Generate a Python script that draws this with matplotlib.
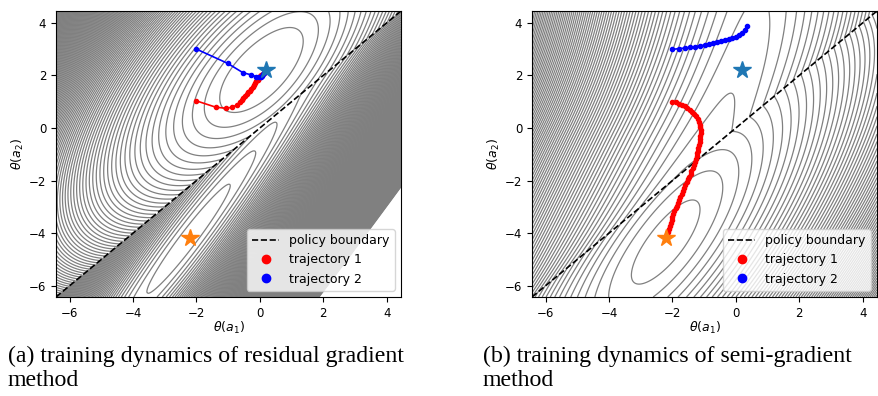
import numpy as np
import matplotlib.pyplot as plt
from matplotlib.lines import Line2D

# parameter plane shown in both panels
lim_lo, lim_hi = -6.43, 4.45

# fixed points of the two greedy policies
star_a2 = (0.2, 2.2)     # greedy action a2 (above the boundary)
star_a1 = (-2.2, -4.2)   # greedy action a1 (below the boundary)

# residual gradient runs
rg_traj1_x = [-2.0, -1.39, -1.06, -0.87, -0.72, -0.64, -0.58, -0.52, -0.47, -0.42, -0.37, -0.32,
              -0.27, -0.23, -0.19, -0.15, -0.11, -0.07, -0.03, 0.01, 0.05, 0.09, 0.13, 0.17, 0.2]
rg_traj1_y = [1.03, 0.79, 0.75, 0.79, 0.88, 1.00, 1.07, 1.14, 1.21, 1.28, 1.35, 1.42,
              1.49, 1.56, 1.63, 1.70, 1.77, 1.84, 1.90, 1.96, 2.01, 2.06, 2.11, 2.16, 2.2]
rg_traj2_x = [-2.0, -1.02, -0.53, -0.27, -0.11, -0.03, 0.02, 0.06, 0.10, 0.13, 0.16, 0.18, 0.2]
rg_traj2_y = [3.0, 2.46, 2.10, 2.02, 1.95, 1.93, 1.95, 1.99, 2.04, 2.09, 2.13, 2.17, 2.2]

# semi-gradient runs
sg_traj1_x = [-2.00, -1.90, -1.80, -1.70, -1.62, -1.54, -1.46, -1.39, -1.32, -1.26, -1.21, -1.17,
              -1.14, -1.12, -1.11, -1.11, -1.12, -1.13, -1.14, -1.16, -1.18, -1.20, -1.22, -1.24,
              -1.27, -1.30, -1.33, -1.36, -1.40, -1.43, -1.47, -1.51, -1.55, -1.59, -1.63, -1.67,
              -1.71, -1.75, -1.79, -1.83, -1.87, -1.90, -1.94, -1.97, -2.00, -2.03, -2.06, -2.09,
              -2.12, -2.14, -2.17, -2.19]
sg_traj1_y = [1.00, 0.97, 0.93, 0.88, 0.83, 0.77, 0.70, 0.62, 0.53, 0.44, 0.34, 0.24,
              0.13, 0.02, -0.09, -0.20, -0.31, -0.42, -0.53, -0.64, -0.75, -0.86, -0.97, -1.08,
              -1.19, -1.30, -1.41, -1.52, -1.63, -1.74, -1.85, -1.96, -2.07, -2.18, -2.29, -2.40,
              -2.51, -2.62, -2.73, -2.84, -2.95, -3.06, -3.17, -3.28, -3.39, -3.50, -3.61, -3.72,
              -3.83, -3.94, -4.05, -4.15]
sg_traj2_x = [-2.0, -1.79, -1.61, -1.46, -1.30, -1.14, -0.98, -0.85, -0.72, -0.59, -0.48, -0.35,
              -0.23, -0.11, -0.01, 0.10, 0.19, 0.28, 0.36]
sg_traj2_y = [2.99, 3.02, 3.04, 3.07, 3.09, 3.12, 3.16, 3.18, 3.22, 3.26, 3.30, 3.34,
              3.37, 3.42, 3.47, 3.54, 3.62, 3.73, 3.88]

captions = ["(a) training dynamics of residual gradient", "(b) training dynamics of semi-gradient"]


def bowl(center, slope, k_perp, k_along, offset=0.0, stiff=0.0, bend=0.0):
    # tilted bowl (long axis with the given slope); `stiff` adds a quartic wall,
    # `bend` curves the axis towards vertical for y > 0
    t = np.array([1.0, slope]) / np.hypot(1.0, slope)
    n = np.array([t[1], -t[0]])

    def f(X, Y):
        Xw = X + bend * np.clip(Y, 0, None) ** 2
        dx, dy = Xw - center[0], Y - center[1]
        q = k_perp * (n[0] * dx + n[1] * dy) ** 2 + k_along * (t[0] * dx + t[1] * dy) ** 2
        return q + stiff * q ** 2 + offset
    return f


def glued(X, Y, upper, lower, ell=1.0):
    # one bowl above theta(a1) = theta(a2), one below; the gap on the boundary is
    # split between the two and fades out away from it
    Qu, Qd = upper(X, Y), lower(X, Y)
    T = 0.5 * (X + Y)
    gap = upper(T, T) - lower(T, T)
    w = np.exp(-np.abs(X - Y) / np.sqrt(2) / ell)
    return np.where(Y > X, Qu - 0.5 * gap * w, Qd + 0.5 * gap * w)


g = np.linspace(lim_lo, lim_hi, 400)
X, Y = np.meshgrid(g, g)

Z_rg = glued(X, Y,
             bowl(star_a2, 1.3, 0.15, 0.03, -0.15, stiff=0.12),
             bowl(star_a1, 1.6, 1.0, 0.0108))
Z_sg = glued(X, Y,
             bowl((-1.71, -2.9), 2.5, 0.45, 0.006, 0.95, bend=0.026),
             bowl((-2.35, -4.3), 1.63, 0.4, 0.05))

fig = plt.figure(figsize=(8.79, 3.96), dpi=100)
ax1 = fig.add_axes([56 / 879, 99 / 396, 345 / 879, 286 / 396])
ax2 = fig.add_axes([532 / 879, 99 / 396, 345 / 879, 286 / 396])

panels = [
    (ax1, Z_rg, np.arange(0, 21.5, 0.104), rg_traj1_x, rg_traj1_y, rg_traj2_x, rg_traj2_y),
    (ax2, Z_sg, np.arange(0, 50, 0.28), sg_traj1_x, sg_traj1_y, sg_traj2_x, sg_traj2_y),
]

for ax, Z, levels, t1x, t1y, t2x, t2y in panels:
    ax.contour(X, Y, Z, levels=levels, colors='gray', linewidths=0.9)
    ax.plot([lim_lo, lim_hi], [lim_lo, lim_hi], 'k--', lw=1.2)
    ax.plot(t1x, t1y, '-o', color='red', ms=3, lw=1.2)
    ax.plot(t2x, t2y, '-o', color='blue', ms=3, lw=1.2)
    ax.plot(*star_a2, '*', color='#1f77b4', ms=13)
    ax.plot(*star_a1, '*', color='#ff7f0e', ms=13)
    ax.set_xlim(lim_lo, lim_hi)
    ax.set_ylim(lim_lo, lim_hi)
    ax.set_xticks([-6, -4, -2, 0, 2, 4])
    ax.set_yticks([-6, -4, -2, 0, 2, 4])
    ax.tick_params(labelsize=8.5)
    ax.set_xlabel(r'$\theta(a_1)$', fontsize=9, labelpad=0)
    ax.set_ylabel(r'$\theta(a_2)$', fontsize=9, labelpad=2)
    handles = [Line2D([], [], color='k', ls='--', lw=1.2),
               Line2D([], [], color='red', marker='o', ls='none', ms=6),
               Line2D([], [], color='blue', marker='o', ls='none', ms=6)]
    ax.legend(handles, ['policy boundary', 'trajectory 1', 'trajectory 2'],
              loc='lower right', fontsize=9, handlelength=2.2)

for x0, cap in zip([8 / 879, 483 / 879], captions):
    fig.text(x0, 1 - 356 / 396, cap, family='Liberation Serif', fontsize=17.2, va='center')
    fig.text(x0, 1 - 381 / 396, 'method', family='Liberation Serif', fontsize=17.2, va='center')

fig.savefig('out.png', dpi=100)
